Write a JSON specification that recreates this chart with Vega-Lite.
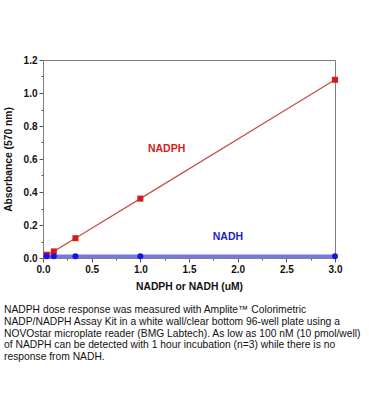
{
  "$schema": "https://vega.github.io/schema/vega-lite/v6.json",
  "width": 292,
  "height": 198,
  "autosize": {"type": "none"},
  "padding": {"left": 43, "top": 60, "right": 34, "bottom": 161},
  "background": "white",
  "config": {
    "view": {"stroke": "#7f7f7f", "strokeWidth": 1},
    "font": "Liberation Sans",
    "axis": {"grid": false, "domainColor": "#7f7f7f", "tickColor": "#555555", "labelFont": "Liberation Sans", "labelFontWeight": "bold", "labelFontSize": 10, "labelColor": "#111111", "titleFont": "Liberation Sans", "titleFontWeight": "bold", "titleFontSize": 10.3, "titleColor": "#111111"}
  },
  "title": {
    "text": [
      "NADPH dose response was measured with Amplite™ Colorimetric",
      "NADP/NADPH Assay Kit in a white wall/clear bottom 96-well plate using a",
      "NOVOstar microplate reader (BMG Labtech). As low as 100 nM (10 pmol/well)",
      "of NADPH can be detected with 1 hour incubation (n=3) while there is no",
      "response from NADH."
    ],
    "orient": "bottom",
    "anchor": "start",
    "frame": "group",
    "dx": -39,
    "offset": 14,
    "font": "Liberation Sans",
    "fontSize": 10.3,
    "fontWeight": "normal",
    "lineHeight": 11.7,
    "color": "#111111"
  },
  "datasets": {
    "pts": [
      {"series": "NADPH", "conc": 0.037, "abs": 0.02},
      {"series": "NADPH", "conc": 0.111, "abs": 0.04},
      {"series": "NADPH", "conc": 0.333, "abs": 0.12},
      {"series": "NADPH", "conc": 1.0, "abs": 0.36},
      {"series": "NADPH", "conc": 3.0, "abs": 1.08},
      {"series": "NADH", "conc": 0.037, "abs": 0.01},
      {"series": "NADH", "conc": 0.111, "abs": 0.01},
      {"series": "NADH", "conc": 0.333, "abs": 0.01},
      {"series": "NADH", "conc": 1.0, "abs": 0.01},
      {"series": "NADH", "conc": 3.0, "abs": 0.01}
    ],
    "labels": [
      {"series": "NADPH", "conc": 1.27, "abs": 0.66},
      {"series": "NADH", "conc": 1.9, "abs": 0.127}
    ]
  },
  "encoding": {
    "x": {
      "field": "conc", "type": "quantitative",
      "scale": {"domain": [0, 3], "nice": false, "zero": true},
      "axis": {
        "title": "NADPH or NADH (uM)",
        "values": [0, 0.25, 0.5, 0.75, 1, 1.25, 1.5, 1.75, 2, 2.25, 2.5, 2.75, 3],
        "labelExpr": "round(datum.value*4) % 2 == 0 ? format(datum.value, '.1f') : ''",
        "tickSize": {"condition": {"test": "round(datum.value*4) % 2 == 0", "value": 4}, "value": 2},
        "labelPadding": 2,
        "titlePadding": 7,
        "labelFlush": false,
        "labelOverlap": false
      }
    },
    "y": {
      "field": "abs", "type": "quantitative",
      "scale": {"domain": [0, 1.2], "nice": false, "zero": true},
      "axis": {
        "title": "Absorbance (570 nm)",
        "values": [0, 0.1, 0.2, 0.3, 0.4, 0.5, 0.6, 0.7, 0.8, 0.9, 1.0, 1.1, 1.2],
        "labelExpr": "round(datum.value*10) % 2 == 0 ? format(datum.value, '.1f') : ''",
        "tickSize": {"condition": {"test": "round(datum.value*10) % 2 == 0", "value": 4}, "value": 2},
        "labelPadding": 2,
        "titlePadding": 10,
        "labelFlush": false,
        "labelOverlap": false
      }
    }
  },
  "layer": [
    {
      "data": {"name": "pts"},
      "transform": [{"filter": "datum.series == 'NADPH'"}],
      "mark": {"type": "line", "color": "#c8524e", "strokeWidth": 1.3}
    },
    {
      "data": {"name": "pts"},
      "transform": [{"filter": "datum.series == 'NADH'"}],
      "mark": {"type": "line", "color": "#7777dd", "strokeWidth": 3.5}
    },
    {
      "data": {"name": "pts"},
      "transform": [{"filter": "datum.series == 'NADPH'"}],
      "mark": {"type": "point", "shape": "square", "filled": true, "color": "#e01515", "opacity": 1, "size": 36}
    },
    {
      "data": {"name": "pts"},
      "transform": [{"filter": "datum.series == 'NADH'"}],
      "mark": {"type": "point", "shape": "circle", "filled": true, "color": "#1414e6", "opacity": 1, "size": 36}
    },
    {
      "data": {"name": "labels"},
      "transform": [{"filter": "datum.series == 'NADPH'"}],
      "mark": {"type": "text", "color": "#d42020", "font": "Liberation Sans", "fontWeight": "bold", "fontSize": 10.5},
      "encoding": {"text": {"field": "series"}}
    },
    {
      "data": {"name": "labels"},
      "transform": [{"filter": "datum.series == 'NADH'"}],
      "mark": {"type": "text", "color": "#1c1cc8", "font": "Liberation Sans", "fontWeight": "bold", "fontSize": 10.5},
      "encoding": {"text": {"field": "series"}}
    }
  ]
}
